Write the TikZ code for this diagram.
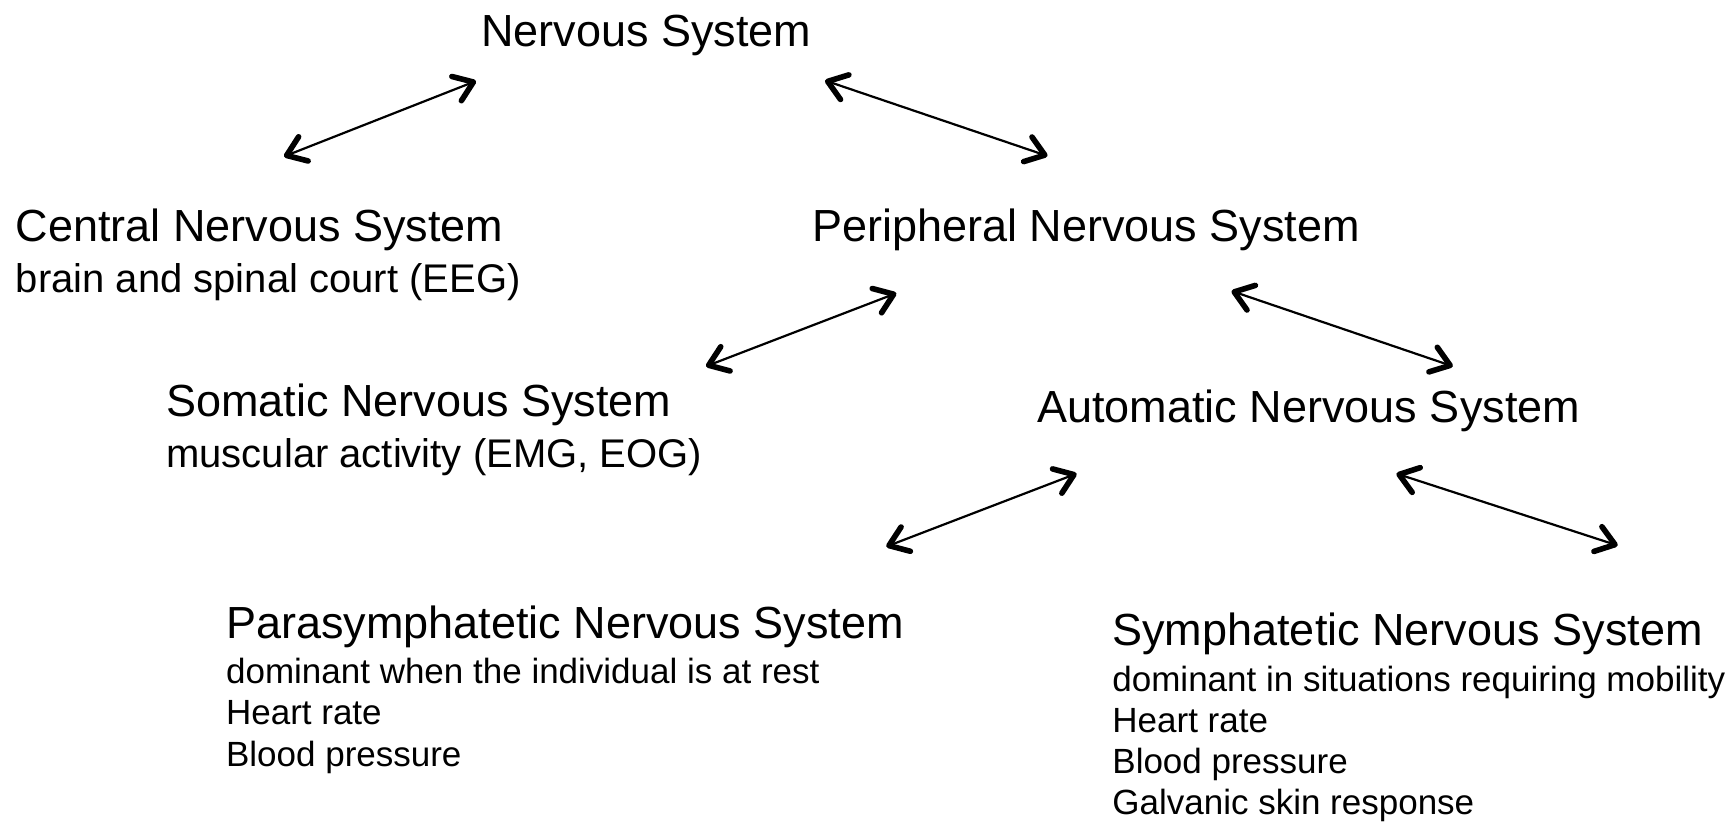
\documentclass[tikz,border=0pt]{standalone}
\usepackage{fontspec}
\setmainfont{Liberation Sans}
\usetikzlibrary{arrows.meta}
\tikzset{
  hd/.style={anchor=base west,inner sep=0pt,font=\fontsize{22.5pt}{27pt}\selectfont},
  sa/.style={anchor=base west,inner sep=0pt,font=\fontsize{20pt}{24pt}\selectfont},
  sb/.style={anchor=base west,inner sep=0pt,font=\fontsize{17.5pt}{21pt}\selectfont},
  barb/.tip={Straight Barb[length=9pt,width=13pt,line width=2.8pt,round]},
  biarrow/.style={line width=1.1pt,barb-barb}
}
\begin{document}
\begin{tikzpicture}[x=0.5pt,y=-0.5pt]
\useasboundingbox (0,0) rectangle (1735,822);
% text
\node[hd] (ns) at (481,47) {Nervous System};
\node[hd] (cns) at (15.5,242) {Central Nervous System};
\node[sa] (cnsa) at (15.5,293) {brain and spinal court (EEG)};
\node[hd] (pns) at (812,242) {Peripheral Nervous System};
\node[hd] (sns) at (166,417) {Somatic Nervous System};
\node[sa] (snsa) at (166,468) {muscular activity (EMG, EOG)};
\node[hd] (ans) at (1037,423) {Automatic Nervous System};
\node[hd] (pas) at (225.7,639) {Parasymphatetic Nervous System};
\node[sb] (pas1) at (225.7,684) {dominant when the individual is at rest};
\node[sb] (pas2) at (225.7,725) {Heart rate};
\node[sb] (pas3) at (225.7,767) {Blood pressure};
\node[hd] (sym) at (1112,646) {Symphatetic Nervous System};
\node[sb] (sym1) at (1112,691.5) {dominant in situations requiring mobility};
\node[sb] (sym2) at (1112,732.5) {Heart rate};
\node[sb] (sym3) at (1112,774) {Blood pressure};
\node[sb] (sym4) at (1112,814.5) {Galvanic skin response};
% arrow ends
\coordinate (a1s) at (476,81);
\coordinate (a1e) at (284,156.5);
\coordinate (a2s) at (825,80.5);
\coordinate (a2e) at (1047.5,156);
\coordinate (a3s) at (896.3,293.2);
\coordinate (a3e) at (706,366.3);
\coordinate (a4s) at (1231.5,291);
\coordinate (a4e) at (1452.8,366.3);
\coordinate (a5s) at (1076.6,473.6);
\coordinate (a5e) at (886.3,546.6);
\coordinate (a6s) at (1396.4,473.6);
\coordinate (a6e) at (1617.7,545.5);
\draw[biarrow] (a1s) -- (a1e);
\draw[biarrow] (a2s) -- (a2e);
\draw[biarrow] (a3s) -- (a3e);
\draw[biarrow] (a4s) -- (a4e);
\draw[biarrow] (a5s) -- (a5e);
\draw[biarrow] (a6s) -- (a6e);
\end{tikzpicture}
\end{document}
